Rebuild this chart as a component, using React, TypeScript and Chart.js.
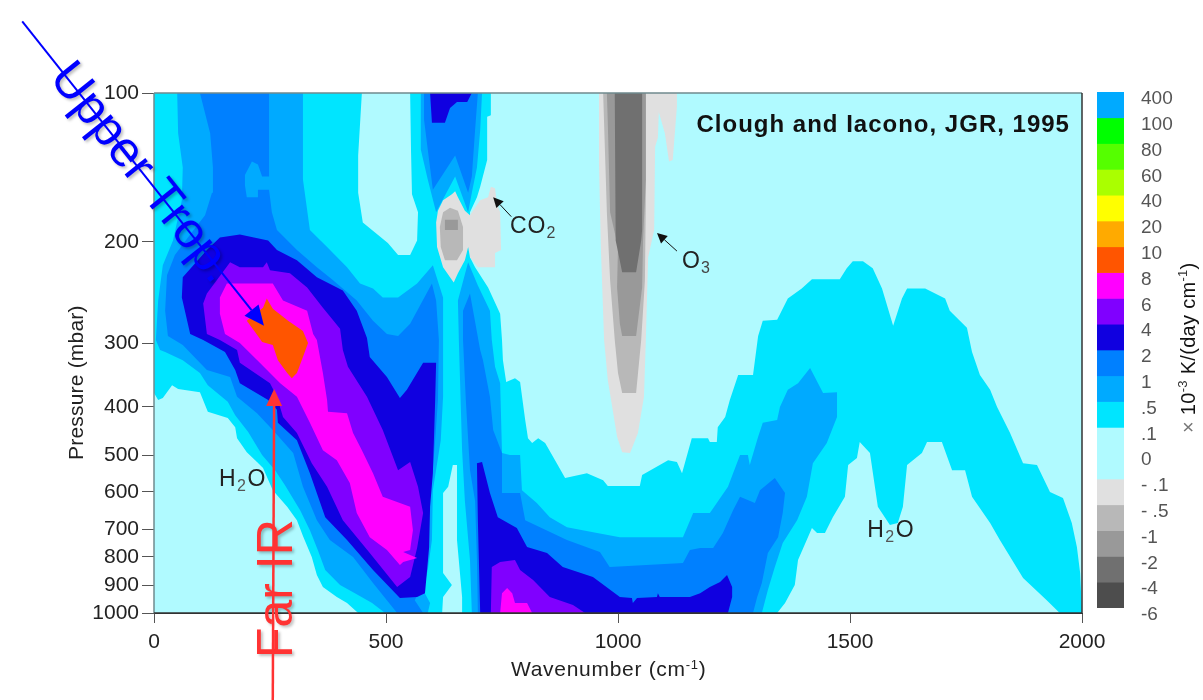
import React, { useEffect, useRef } from "react";
import { Chart, registerables, LinearScale } from "chart.js";

// ---- axes
const pressureTicks = [100, 200, 300, 400, 500, 600, 700, 800, 900, 1000];
const pressureTickFractions = [0, 0.2865, 0.4808, 0.6038, 0.6962, 0.7673, 0.8385, 0.8923, 0.9462, 1];
const wavenumberMin = 0;
const wavenumberMax = 2000;

// ---- colour bar
const colorbarLabels = ["400", "100", "80", "60", "40", "20", "10", "8", "6", "4", "2", "1", ".5", ".1", "0", "- .1", "- .5", "-1", "-2", "-4", "-6"];
const colorbarColors = ["#00AAFF", "#00FF00", "#55FF00", "#AAFF00", "#FFFF00", "#FFAA00", "#FF5500", "#FF00FF", "#8000FF", "#1000E0", "#0080FF", "#00AAFF", "#00E5FF", "#B0FAFF", "#B0FAFF", "#E0E0E0", "#B8B8B8", "#999999", "#707070", "#4D4D4D"];

// ---- contour outlines [wavenumber, pressure]
const bg = [[0, 100], [2000, 100], [2000, 1000], [0, 1000]];
const level05Main = [[0,100],[726,100],[726,115],[718,116],[718,145],[703,163],[696,170],[681,180],[681,199],[681,215],[692,225],[720,245],[746,271],[750,297],[752,327],[759,361],[778,355],[789,361],[800,427],[806,465],[815,475],[828,465],[843,475],[868,522],[886,562],[933,549],[968,568],[978,584],[1047,584],[1052,554],[1090,527],[1108,514],[1127,519],[1138,549],[1159,465],[1194,465],[1198,473],[1213,473],[1215,442],[1231,421],[1241,389],[1259,350],[1291,350],[1302,293],[1312,278],[1343,277],[1366,256],[1396,246],[1418,237],[1478,237],[1493,226],[1506,219],[1528,219],[1549,226],[1569,246],[1593,283],[1612,256],[1623,246],[1662,246],[1705,256],[1715,268],[1752,285],[1763,314],[1780,350],[1802,373],[1817,400],[1845,454],[1873,522],[1903,527],[1931,600],[1959,616],[1978,684],[1989,764],[1996,857],[2000,1000],[1952,1000],[1924,954],[1873,875],[1823,739],[1802,684],[1763,613],[1748,541],[1720,541],[1698,473],[1666,473],[1655,496],[1623,527],[1614,640],[1603,684],[1586,689],[1560,640],[1543,496],[1521,473],[1515,508],[1496,527],[1489,613],[1463,668],[1446,714],[1429,714],[1418,697],[1388,811],[1381,900],[1360,964],[1343,1000],[440,1000],[416,964],[394,943],[364,907],[351,864],[340,800],[321,725],[308,676],[287,640],[256,595],[235,535],[222,519],[200,494],[179,465],[175,442],[159,423],[116,410],[99,377],[52,372],[39,366],[19,386],[9,389],[0,378]];
const lightPocket = [[448,100],[552,100],[554,140],[556,168],[569,180],[567,199],[552,213],[526,213],[504,201],[450,187],[440,167],[440,142]];
const lightSlit = [[621,1000],[664,1000],[664,943],[653,739],[653,527],[644,527],[634,586],[623,603],[623,857],[642,900],[623,943]];
const level1Left = [[50,100],[321,100],[321,158],[336,192],[373,205],[416,225],[444,241],[472,246],[493,255],[526,255],[567,241],[601,223],[623,255],[623,384],[618,469],[601,595],[599,739],[590,846],[580,918],[595,964],[590,1000],[498,1000],[470,964],[433,929],[401,900],[369,846],[353,775],[336,704],[315,649],[282,581],[261,541],[233,500],[203,452],[175,417],[159,392],[116,366],[99,347],[62,327],[24,314],[13,311],[4,297],[9,258],[19,223],[41,199],[60,172],[62,150],[52,127]];
const level1Top = [[575,100],[707,100],[703,125],[696,150],[685,167],[677,180],[649,156],[608,180],[590,158],[575,138]];
const level1Right = [[677,220],[698,243],[724,268],[728,297],[735,337],[746,363],[750,496],[767,500],[789,500],[793,595],[825,630],[853,668],[890,695],[955,714],[1004,729],[1140,729],[1162,657],[1198,657],[1237,586],[1263,500],[1280,500],[1284,527],[1302,462],[1312,433],[1343,427],[1349,400],[1366,373],[1388,363],[1414,339],[1442,378],[1472,377],[1472,421],[1450,475],[1420,522],[1407,613],[1386,676],[1355,750],[1338,836],[1323,918],[1310,1000],[685,1000],[681,811],[670,624],[664,490],[657,297],[655,258]];
const level2Left = [[99,100],[248,100],[248,165],[254,180],[265,192],[308,208],[351,225],[386,238],[437,258],[472,278],[502,291],[526,293],[552,281],[599,241],[608,258],[614,297],[612,389],[606,469],[599,568],[590,676],[586,811],[573,918],[562,954],[580,1000],[524,1000],[472,893],[429,800],[379,739],[351,676],[321,586],[300,496],[256,448],[222,413],[179,384],[164,353],[114,342],[62,303],[30,293],[24,268],[28,233],[45,213],[78,195],[110,182],[125,167],[127,150],[121,127]];
const level1Notch = [[196,155],[211,146],[224,148],[233,156],[250,156],[250,165],[224,165],[224,170],[200,170],[196,162]];
const level2Top = [[582,100],[698,100],[692,125],[685,156],[677,167],[649,142],[601,165],[590,138],[582,118]];
const level2Right = [[681,251],[703,311],[709,327],[724,384],[731,448],[750,496],[750,603],[789,603],[800,676],[890,739],[961,782],[982,836],[1140,821],[1155,775],[1177,768],[1205,768],[1226,714],[1248,649],[1263,613],[1295,630],[1306,595],[1338,562],[1360,603],[1355,657],[1345,729],[1323,786],[1310,893],[1300,943],[1291,1000],[698,1000],[696,811],[692,624],[681,541],[672,389],[666,297],[666,268]];
const level4Main = [[114,208],[142,197],[185,195],[246,199],[265,208],[308,218],[351,235],[407,248],[437,268],[459,295],[465,322],[502,353],[530,386],[545,373],[580,331],[608,331],[606,389],[601,549],[595,640],[593,764],[588,857],[584,929],[567,943],[530,946],[472,846],[416,739],[369,668],[336,549],[308,469],[267,433],[265,406],[246,389],[185,363],[175,342],[153,314],[106,297],[78,291],[60,255],[62,235]];
const level4Top = [[595,100],[685,100],[675,106],[653,106],[638,110],[627,120],[599,120]];
const level4Right = [[696,522],[707,519],[724,603],[741,668],[782,697],[804,764],[847,786],[881,836],[946,871],[1004,943],[1030,946],[1032,964],[1041,946],[1084,943],[1086,929],[1090,943],[1155,943],[1177,929],[1198,907],[1220,889],[1235,864],[1246,907],[1246,943],[1237,1000],[703,1000],[698,676]];
const level6Main = [[106,261],[114,251],[164,220],[185,225],[235,225],[243,220],[250,228],[293,231],[330,245],[364,265],[401,286],[407,311],[418,337],[459,384],[493,448],[526,541],[552,519],[569,586],[580,657],[567,768],[552,871],[524,907],[465,786],[407,676],[373,586],[340,522],[308,454],[278,421],[265,384],[250,363],[185,331],[179,311],[142,297],[114,291]];
const level6Right = [[728,836],[746,818],[778,811],[789,846],[817,882],[853,943],[903,971],[929,1000],[726,1000]];
const level8Main = [[142,271],[142,255],[157,241],[256,241],[278,258],[330,268],[343,291],[351,297],[364,347],[373,389],[375,410],[416,413],[429,454],[448,490],[472,549],[493,613],[552,640],[558,704],[552,775],[537,782],[567,804],[537,818],[530,829],[502,775],[465,729],[437,657],[422,576],[394,514],[364,490],[336,433],[308,384],[272,363],[228,331],[185,300],[153,291]];
const level8Right = [[746,1000],[750,929],[761,911],[772,929],[778,964],[804,964],[815,1000]];
const level10 = [[200,278],[224,293],[233,299],[256,303],[267,327],[287,347],[297,355],[308,347],[321,322],[332,300],[321,288],[289,278],[256,266],[243,256],[235,265]];
const co2Minus01 = [[608,187],[612,179],[623,172],[642,168],[649,166],[655,170],[670,179],[681,182],[687,179],[703,172],[720,170],[726,163],[735,164],[739,174],[746,180],[748,208],[735,211],[735,225],[698,225],[681,215],[677,205],[670,218],[655,231],[646,240],[638,235],[623,225],[610,205]];
const co2Minus05 = [[616,190],[623,180],[638,177],[655,179],[666,190],[666,208],[653,218],[627,218],[618,205]];
const co2Minus1 = [[627,185],[655,185],[655,192],[627,192]];
const o3Minus01 = [[959,100],[1127,100],[1127,109],[1118,145],[1110,146],[1101,127],[1088,113],[1086,130],[1080,136],[1078,192],[1065,215],[1060,297],[1056,384],[1043,454],[1026,496],[1009,494],[998,462],[978,358],[970,297],[963,205],[959,147]];
const o3Minus05 = [[968,100],[1060,100],[1060,172],[1058,238],[1050,297],[1039,378],[1009,378],[1000,347],[993,297],[983,238],[976,180],[970,120]];
const o3Minus1 = [[976,100],[1060,100],[1060,158],[1054,199],[1052,245],[1039,293],[1009,293],[1004,281],[998,245],[1000,205],[983,180],[978,120]];
const o3Minus2 = [[993,100],[1052,100],[1052,192],[1050,199],[1039,230],[1009,230],[995,199]];

const LIGHT = "#B0FAFF", C05 = "#00E5FF", C1 = "#00AAFF", C2 = "#0080FF", C4 = "#1000E0", C6 = "#8000FF", C8 = "#FF00FF", C10 = "#FF5500";
const G01 = "#E0E0E0", G05 = "#B8B8B8", G1 = "#999999", G2 = "#707070";

// bottom-most first
const layers: [number[][], string][] = [
  [bg, LIGHT], [level05Main, C05], [lightPocket, LIGHT], [lightSlit, LIGHT],
  [level1Left, C1], [level1Top, C1], [level1Right, C1],
  [level2Left, C2], [level1Notch, C1], [level2Top, C2], [level2Right, C2],
  [level4Main, C4], [level4Top, C4], [level4Right, C4],
  [level6Main, C6], [level6Right, C6], [level8Main, C8], [level8Right, C8], [level10, C10],
  [co2Minus01, G01], [co2Minus05, G05], [co2Minus1, G1],
  [o3Minus01, G01], [o3Minus05, G05], [o3Minus1, G1], [o3Minus2, G2],
];

const FONT = '"Liberation Sans", Arial, sans-serif';
const INK = "#222222";

function fractionOf(p: number) {
  const t = pressureTicks, f = pressureTickFractions;
  let i = 0;
  while (i < t.length - 2 && p > t[i + 1]) i++;
  return f[i] + ((p - t[i]) / (t[i + 1] - t[i])) * (f[i + 1] - f[i]);
}

class PressureScale extends (LinearScale as any) {
  static id = "pressure";
  static defaults = (LinearScale as any).defaults;
  buildTicks() {
    return pressureTicks.map((value) => ({ value }));
  }
  getPixelForValue(v: number) {
    const s: any = this;
    return s.top + fractionOf(v) * (s.bottom - s.top);
  }
}

Chart.register(...registerables, PressureScale as any);

type Run = { t: string; size: number; dy?: number; color?: string; weight?: string };
function runs(ctx: any, items: Run[], x: number, y: number, angle = 0, spacing = 0) {
  ctx.save();
  ctx.translate(x, y);
  ctx.rotate(angle);
  ctx.textAlign = "left";
  ctx.textBaseline = "alphabetic";
  ctx.letterSpacing = `${spacing}px`;
  let cx = 0;
  for (const r of items) {
    ctx.font = `${r.weight || "normal"} ${r.size}px ${FONT}`;
    ctx.fillStyle = r.color || INK;
    ctx.fillText(r.t, cx, r.dy || 0);
    cx += ctx.measureText(r.t).width;
  }
  ctx.restore();
}

function arrow(ctx: any, x0: number, y0: number, x1: number, y1: number, color: string, w: number, head: number, half: number) {
  const a = Math.atan2(y1 - y0, x1 - x0);
  const bx = x1 - head * Math.cos(a), by = y1 - head * Math.sin(a);
  ctx.save();
  ctx.strokeStyle = color;
  ctx.fillStyle = color;
  ctx.lineWidth = w;
  ctx.beginPath();
  ctx.moveTo(x0, y0);
  ctx.lineTo(bx, by);
  ctx.stroke();
  ctx.beginPath();
  ctx.moveTo(x1, y1);
  ctx.lineTo(bx + half * Math.sin(a), by - half * Math.cos(a));
  ctx.lineTo(bx - half * Math.sin(a), by + half * Math.cos(a));
  ctx.closePath();
  ctx.fill();
  ctx.restore();
}

const annotations = {
  id: "annotations",
  afterDraw(chart: any) {
    const { ctx, scales } = chart;
    const X = (v: number) => scales.x.getPixelForValue(v);
    const Y = (v: number) => scales.y.getPixelForValue(v);
    const { left, right, top, bottom } = chart.chartArea;
    // frame
    ctx.save();
    ctx.lineWidth = 1.5;
    ctx.strokeStyle = "#6F8A8E";
    ctx.beginPath(); ctx.moveTo(left, top); ctx.lineTo(right, top); ctx.stroke();
    ctx.beginPath(); ctx.moveTo(left, top); ctx.lineTo(left, bottom); ctx.stroke();
    ctx.strokeStyle = "#333333";
    ctx.beginPath(); ctx.moveTo(right, top); ctx.lineTo(right, bottom); ctx.stroke();
    ctx.beginPath(); ctx.moveTo(left, bottom); ctx.lineTo(right, bottom); ctx.stroke();
    ctx.restore();

    // axis titles
    runs(ctx, [{ t: "Wavenumber (cm", size: 21 }, { t: "-1", size: 13, dy: -7 }, { t: ")", size: 21 }], 511, 676, 0, 0.7);
    runs(ctx, [{ t: "Pressure (mbar)", size: 21 }], 83, 460, -Math.PI / 2, 0.2);

    // in-plot labels
    ctx.save();
    ctx.letterSpacing = "1px";
    ctx.font = `bold 24px ${FONT}`;
    ctx.textAlign = "right";
    ctx.fillStyle = "#111111";
    ctx.fillText("Clough and Iacono, JGR, 1995", X(1974), Y(126));
    ctx.restore();
    const h2o: Run[] = [{ t: "H", size: 23 }, { t: "2", size: 16, dy: 5, color: "#555555" }, { t: "O", size: 23 }];
    runs(ctx, h2o, X(140), Y(584), 0, 1.5);
    runs(ctx, h2o, X(1537), Y(729), 0, 1.5);
    runs(ctx, [{ t: "CO", size: 23 }, { t: "2", size: 16, dy: 5, color: "#444444" }], X(767), Y(194), 0, 1);
    runs(ctx, [{ t: "O", size: 23 }, { t: "3", size: 16, dy: 5, color: "#444444" }], X(1138), Y(226), 0, 1);
    arrow(ctx, X(770), Y(183), X(731), Y(170), "#111111", 1, 10, 5);
    arrow(ctx, X(1127), Y(209), X(1084), Y(194), "#111111", 1, 10, 5);

    // callouts
    ctx.save();
    ctx.shadowColor = "rgba(0,0,0,0.25)";
    ctx.shadowBlur = 3;
    ctx.shadowOffsetX = 2;
    ctx.shadowOffsetY = 2;
    runs(ctx, [{ t: "Upper Trop.", size: 50, color: "#0000FF" }], X(-228), Y(90), 0.9);
    runs(ctx, [{ t: "Far IR", size: 50, color: "#FF3333" }], X(297), Y(1161), -Math.PI / 2);
    ctx.restore();
    arrow(ctx, X(-284), Y(52), X(237), Y(283), "#0000FF", 2, 20, 9);
    arrow(ctx, X(256), Y(1311), X(259), Y(372), "#FF3333", 2.5, 17, 8);
  },
};

const colorbarTitle = {
  id: "colorbarTitle",
  afterDraw(chart: any) {
    runs(
      chart.ctx,
      [
        { t: "× ", size: 20, color: "#777777" },
        { t: "10", size: 20, color: "#111111" },
        { t: "-3", size: 13, dy: -8, color: "#333333" },
        { t: " K/(day cm", size: 20, color: "#111111" },
        { t: "-1", size: 13, dy: -8, color: "#333333" },
        { t: ")", size: 20, color: "#111111" },
      ],
      1195,
      433,
      -Math.PI / 2,
      0.3
    );
  },
};

export default function App() {
  const mainRef = useRef<HTMLCanvasElement>(null);
  const barRef = useRef<HTMLCanvasElement>(null);

  useEffect(() => {
    const main = new Chart(mainRef.current as any, {
      type: "scatter",
      data: {
        datasets: layers
          .map(([pts, color]) => ({
            data: pts.map(([x, y]) => ({ x, y })),
            showLine: true,
            fill: "shape",
            backgroundColor: color,
            borderWidth: 0,
            borderColor: color,
            pointRadius: 0,
            tension: 0,
          }))
          .reverse(),
      },
      options: {
        animation: false,
        responsive: false,
        devicePixelRatio: 1,
        layout: { autoPadding: false, padding: { top: 93, right: 121, left: 0, bottom: 0 } },
        plugins: { legend: { display: false }, tooltip: { enabled: false } },
        scales: {
          x: {
            type: "linear",
            min: wavenumberMin,
            max: wavenumberMax,
            afterFit: (s: any) => { s.height = 87; s.paddingLeft = 0; s.paddingRight = 0; },
            ticks: { stepSize: 500, color: INK, padding: 7, maxRotation: 0, font: { family: FONT, size: 21 }, callback: (v: any) => String(v) },
            grid: { drawOnChartArea: false, tickLength: 10, tickColor: "#555555", color: "#555555" },
            border: { color: "#333333" },
          },
          y: {
            type: "pressure",
            min: 100,
            max: 1000,
            afterFit: (s: any) => { s.width = 154; s.paddingTop = 0; s.paddingBottom = 0; },
            ticks: { autoSkip: false, color: INK, padding: 3, font: { family: FONT, size: 21 }, callback: (v: any) => String(v) },
            grid: { drawOnChartArea: false, tickLength: 12, tickColor: "#555555", color: "#555555" },
            border: { color: "#6F8A8E" },
          },
        },
      } as any,
      plugins: [annotations],
    } as any);

    const bar = new Chart(barRef.current as any, {
      type: "bar",
      data: {
        labels: [""],
        datasets: colorbarColors.map((c) => ({
          data: [1],
          backgroundColor: c,
          borderWidth: 0,
          barPercentage: 1,
          categoryPercentage: 1,
        })),
      },
      options: {
        animation: false,
        responsive: false,
        devicePixelRatio: 1,
        layout: { autoPadding: false, padding: { top: 92, bottom: 92, left: 1097, right: 0 } },
        plugins: { legend: { display: false }, tooltip: { enabled: false } },
        scales: {
          x: { stacked: true, display: false },
          y: {
            stacked: true,
            reverse: true,
            position: "right",
            min: 0,
            max: 20,
            afterFit: (s: any) => { s.width = 79; s.paddingTop = 0; s.paddingBottom = 0; },
            grid: { display: false, drawTicks: false },
            border: { display: false },
            ticks: {
              stepSize: 1,
              autoSkip: false,
              padding: 17,
              labelOffset: 7,
              color: "#555555",
              font: { family: FONT, size: 19 },
              callback: (v: any) => colorbarLabels[v],
            },
          },
        },
      } as any,
      plugins: [colorbarTitle],
    } as any);

    return () => {
      main.destroy();
      bar.destroy();
    };
  }, []);

  const style: React.CSSProperties = { position: "absolute", left: 0, top: 0, display: "block" };
  return (
    <div style={{ position: "absolute", left: 0, top: 0, width: 1203, height: 700, background: "#FFFFFF", overflow: "hidden" }}>
      <canvas ref={mainRef} width={1203} height={700} style={style} />
      <canvas ref={barRef} width={1203} height={700} style={{ ...style, pointerEvents: "none" }} />
    </div>
  );
}
